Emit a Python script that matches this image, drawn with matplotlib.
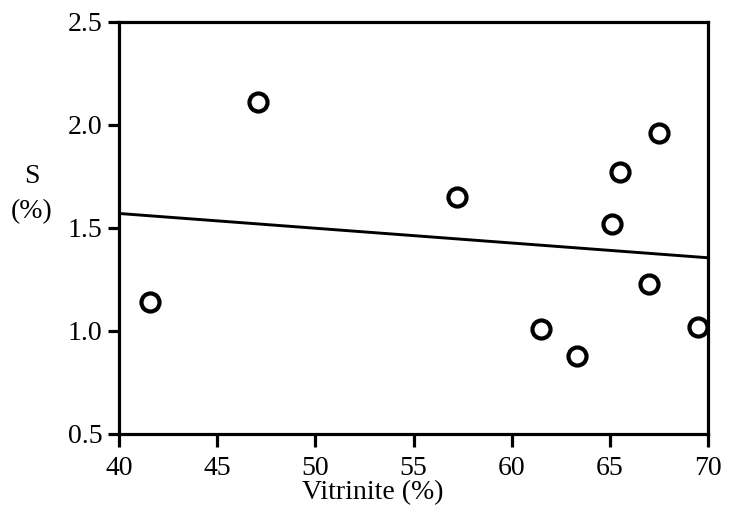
import matplotlib
matplotlib.use("Agg")
import matplotlib.pyplot as plt

# Vitrinite content vs sulphur content
vitrinite = [41.6, 47.1, 57.2, 61.5, 63.3, 65.1, 65.5, 67.5, 67.0, 69.5]
sulphur = [1.14, 2.11, 1.65, 1.01, 0.88, 1.52, 1.77, 1.96, 1.23, 1.02]

# Fitted trend line (endpoints across the axis range)
fit_x = [40, 70]
fit_y = [1.57, 1.355]

x_ticks = [40, 45, 50, 55, 60, 65, 70]
y_ticks = [0.5, 1.0, 1.5, 2.0, 2.5]

plt.rcParams["font.family"] = ["Liberation Serif", "DejaVu Serif"]

fig = plt.figure(figsize=(7.30, 5.07), dpi=100)
ax = fig.add_axes([0.163, 0.144, 0.807, 0.813])

ax.plot(fit_x, fit_y, color="black", lw=2.1, solid_capstyle="butt")
ax.plot(vitrinite, sulphur, linestyle="none", marker="o", markersize=13,
        markerfacecolor="white", markeredgecolor="black", markeredgewidth=3.0)

ax.set_xlim(40, 70)
ax.set_ylim(0.5, 2.5)
ax.set_xticks(x_ticks)
ax.set_xticklabels([str(v) for v in x_ticks])
ax.set_yticks(y_ticks)
ax.set_yticklabels([f"{v:.1f}" for v in y_ticks])

for s in ax.spines.values():
    s.set_linewidth(2.3)

ax.tick_params(axis="x", direction="out", length=9, width=2.3, pad=7, labelsize=20)
ax.tick_params(axis="y", direction="out", length=8, width=2.3, pad=4, labelsize=20)

fig.text(0.511, 0.004, "Vitrinite (%)", ha="center", va="bottom", fontsize=20)
fig.text(0.044, 0.651, "S", ha="center", va="center", fontsize=20)
fig.text(0.044, 0.582, "(%)", ha="center", va="center", fontsize=20)

fig.savefig("out.png", dpi=100)
